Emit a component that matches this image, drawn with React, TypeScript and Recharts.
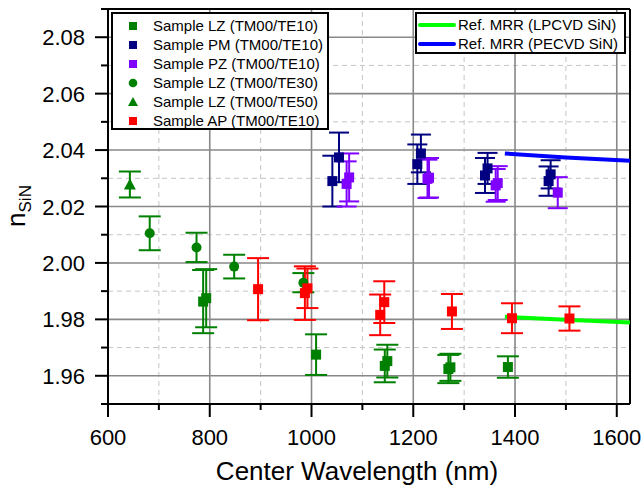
import React from "react";
import {
  ScatterChart,
  Scatter,
  XAxis,
  YAxis,
  ErrorBar,
  ReferenceLine,
} from "recharts";

const FONT = "'Liberation Sans', Arial, sans-serif";

// axis ticks (every tick drawn, labels only on the major ones)
const xTicks = [600, 700, 800, 900, 1000, 1100, 1200, 1300, 1400, 1500, 1600];
const yTicks = [1.95, 1.96, 1.97, 1.98, 1.99, 2.0, 2.01, 2.02, 2.03, 2.04, 2.05, 2.06, 2.07, 2.08, 2.09];
const xMajorGrid = [800, 1000, 1200, 1400, 1600];
const xMinorGrid = [700, 900, 1100, 1300, 1500];
const yMajorGrid = [1.96, 1.98, 2.0, 2.02, 2.04, 2.06, 2.08];
const yMinorGrid = [1.97, 1.99, 2.01, 2.03, 2.05, 2.07];

// measured points: x = center wavelength (nm), y = n_SiN, e = error
const lzTe10 = [
  { x: 787, y: 1.9863, e: 0.0112 },
  { x: 793, y: 1.9875, e: 0.0103 },
  { x: 1009, y: 1.9675, e: 0.0072 },
  { x: 1144, y: 1.9635, e: 0.0058 },
  { x: 1149, y: 1.9652, e: 0.0058 },
  { x: 1269, y: 1.9624, e: 0.005 },
  { x: 1273, y: 1.963, e: 0.0048 },
  { x: 1386, y: 1.9631, e: 0.0038 },
];
const pmTe10 = [
  { x: 1041, y: 2.029, e: 0.009 },
  { x: 1054, y: 2.0374, e: 0.0088 },
  { x: 1208, y: 2.035, e: 0.007 },
  { x: 1215, y: 2.0388, e: 0.0067 },
  { x: 1341, y: 2.031, e: 0.0062 },
  { x: 1346, y: 2.0335, e: 0.0055 },
  { x: 1466, y: 2.029, e: 0.0052 },
  { x: 1470, y: 2.0314, e: 0.005 },
];
const pzTe10 = [
  { x: 1069, y: 2.028, e: 0.008 },
  { x: 1074, y: 2.0303, e: 0.0085 },
  { x: 1228, y: 2.0298, e: 0.0068 },
  { x: 1231, y: 2.0302, e: 0.007 },
  { x: 1362, y: 2.0275, e: 0.0058 },
  { x: 1366, y: 2.0283, e: 0.006 },
  { x: 1484, y: 2.0249, e: 0.0055 },
];
const lzTe30 = [
  { x: 682, y: 2.0105, e: 0.006 },
  { x: 774, y: 2.0055, e: 0.0052 },
  { x: 848, y: 1.9987, e: 0.0042 },
  { x: 984, y: 1.993, e: 0.0034 },
];
const lzTe50 = [{ x: 643, y: 2.0278, e: 0.0046 }];
const apTe10 = [
  { x: 895, y: 1.9907, e: 0.011 },
  { x: 987, y: 1.9893, e: 0.0095 },
  { x: 992, y: 1.991, e: 0.007 },
  { x: 1135, y: 1.9816, e: 0.0072 },
  { x: 1143, y: 1.9861, e: 0.0074 },
  { x: 1276, y: 1.9828, e: 0.0062 },
  { x: 1394, y: 1.9804, e: 0.0053 },
  { x: 1507, y: 1.9803, e: 0.0043 },
];

// reference ring resonator curves
const lpcvdRef = [
  { x: 1380, y: 1.9809 },
  { x: 1500, y: 1.9799 },
  { x: 1626, y: 1.9789 },
];
const pecvdRef = [
  { x: 1380, y: 2.0388 },
  { x: 1500, y: 2.0374 },
  { x: 1626, y: 2.0362 },
];

const GREEN = "#008000";
const NAVY = "#000080";
const PURPLE = "#8000ff";
const RED = "#ff0000";

const squareShape = (color: string) => (p: any) => (
  <rect x={p.cx - 5} y={p.cy - 5} width={10} height={10} fill={color} />
);
const circleShape = (color: string) => (p: any) => (
  <circle cx={p.cx} cy={p.cy} r={5} fill={color} />
);
const triangleShape = (color: string) => (p: any) => (
  <polygon
    points={`${p.cx},${p.cy - 6} ${p.cx + 6},${p.cy + 5} ${p.cx - 6},${p.cy + 5}`}
    fill={color}
  />
);
const noShape = () => <g />;

function XTick({ x, y, payload }: any) {
  const v = payload.value;
  const major = v % 200 === 0;
  return (
    <g>
      <line x1={x} x2={x} y1={y} y2={y + (major ? 13 : 6)} stroke="#000" strokeWidth={2} />
      {major && (
        <text x={x} y={y + 41} textAnchor="middle" fontSize={22} fill="#000" fontFamily={FONT}>
          {v}
        </text>
      )}
    </g>
  );
}

function YTick({ x, y, payload }: any) {
  const v = payload.value;
  const major = Math.round(v * 100) % 2 === 0;
  return (
    <g>
      <line x1={x - (major ? 13 : 7)} x2={x} y1={y} y2={y} stroke="#000" strokeWidth={2} />
      {major && (
        <text x={x - 23} y={y + 8} textAnchor="end" fontSize={22} fill="#000" fontFamily={FONT}>
          {v.toFixed(2)}
        </text>
      )}
    </g>
  );
}

const markerLegend = [
  { label: "Sample LZ (TM00/TE10)", color: GREEN, kind: "square" },
  { label: "Sample PM (TM00/TE10)", color: NAVY, kind: "square" },
  { label: "Sample PZ (TM00/TE10)", color: PURPLE, kind: "square" },
  { label: "Sample LZ (TM00/TE30)", color: GREEN, kind: "circle" },
  { label: "Sample LZ (TM00/TE50)", color: GREEN, kind: "triangle" },
  { label: "Sample AP (TM00/TE10)", color: RED, kind: "square" },
];
const lineLegend = [
  { label: "Ref. MRR (LPCVD SiN)", color: "#00ff00" },
  { label: "Ref. MRR (PECVD SiN)", color: "#0000ff" },
];

function LegendMarker({ kind, color }: { kind: string; color: string }) {
  return (
    <svg width={12} height={12} style={{ display: "block" }}>
      {kind === "square" && <rect x={2} y={2} width={8} height={8} fill={color} />}
      {kind === "circle" && <circle cx={6} cy={6} r={4.3} fill={color} />}
      {kind === "triangle" && <polygon points="6,1 11,10 1,10" fill={color} />}
    </svg>
  );
}

export default function App() {
  const gridMajor = { stroke: "#888", strokeWidth: 1.6 };
  const gridMinor = { stroke: "#c4c4c4", strokeWidth: 1, strokeDasharray: "5 4" };

  return (
    <div
      style={{
        position: "absolute",
        left: 0,
        top: 0,
        width: 644,
        height: 487,
        background: "#fff",
        fontFamily: FONT,
      }}
    >
      <ScatterChart width={644} height={487} margin={{ top: 9, right: 14, left: 0, bottom: 0 }}>
        <XAxis
          type="number"
          dataKey="x"
          domain={[600, 1626]}
          ticks={xTicks}
          interval={0}
          tick={<XTick />}
          tickLine={false}
          tickSize={0}
          tickMargin={0}
          height={83}
          axisLine={{ stroke: "#000", strokeWidth: 2 }}
        />
        <YAxis
          type="number"
          dataKey="y"
          domain={[1.95, 2.09]}
          ticks={yTicks}
          interval={0}
          tick={<YTick />}
          tickLine={false}
          tickSize={0}
          tickMargin={0}
          width={108}
          axisLine={{ stroke: "#000", strokeWidth: 2 }}
        />
        {xMinorGrid.map((v) => (
          <ReferenceLine key={`xm${v}`} x={v} {...gridMinor} />
        ))}
        {yMinorGrid.map((v) => (
          <ReferenceLine key={`ym${v}`} y={v} {...gridMinor} />
        ))}
        {xMajorGrid.map((v) => (
          <ReferenceLine key={`xM${v}`} x={v} {...gridMajor} />
        ))}
        {yMajorGrid.map((v) => (
          <ReferenceLine key={`yM${v}`} y={v} {...gridMajor} />
        ))}
        <ReferenceLine y={2.09} stroke="#000" strokeWidth={2} />
        <ReferenceLine x={1626} stroke="#000" strokeWidth={2} />

        <Scatter
          data={lpcvdRef}
          line={{ stroke: "#00ff00", strokeWidth: 4 }}
          shape={noShape}
          isAnimationActive={false}
        />
        <Scatter
          data={pecvdRef}
          line={{ stroke: "#0000ff", strokeWidth: 4 }}
          shape={noShape}
          isAnimationActive={false}
        />

        <Scatter data={lzTe50} shape={triangleShape(GREEN)} isAnimationActive={false}>
          <ErrorBar dataKey="e" direction="y" width={11} stroke={GREEN} strokeWidth={2} />
        </Scatter>
        <Scatter data={lzTe30} shape={circleShape(GREEN)} isAnimationActive={false}>
          <ErrorBar dataKey="e" direction="y" width={11} stroke={GREEN} strokeWidth={2} />
        </Scatter>
        <Scatter data={lzTe10} shape={squareShape(GREEN)} isAnimationActive={false}>
          <ErrorBar dataKey="e" direction="y" width={11} stroke={GREEN} strokeWidth={2} />
        </Scatter>
        <Scatter data={apTe10} shape={squareShape(RED)} isAnimationActive={false}>
          <ErrorBar dataKey="e" direction="y" width={11} stroke={RED} strokeWidth={2} />
        </Scatter>
        <Scatter data={pmTe10} shape={squareShape(NAVY)} isAnimationActive={false}>
          <ErrorBar dataKey="e" direction="y" width={10} stroke={NAVY} strokeWidth={2} />
        </Scatter>
        <Scatter data={pzTe10} shape={squareShape(PURPLE)} isAnimationActive={false}>
          <ErrorBar dataKey="e" direction="y" width={10} stroke={PURPLE} strokeWidth={2} />
        </Scatter>
      </ScatterChart>

      {/* axis titles */}
      <svg
        width={644}
        height={487}
        style={{ position: "absolute", left: 0, top: 0, pointerEvents: "none" }}
      >
        <text x={357} y={480} textAnchor="middle" fontSize={26} fill="#000" fontFamily={FONT}>
          Center Wavelength (nm)
        </text>
        <text
          x={25}
          y={206}
          transform="rotate(-90 25 206)"
          textAnchor="middle"
          fontSize={26}
          fill="#000"
          fontFamily={FONT}
        >
          <tspan>n</tspan>
          <tspan fontSize={17} dy={6}>
            SiN
          </tspan>
        </text>
      </svg>

      {/* sample legend */}
      <div
        style={{
          position: "absolute",
          left: 111,
          top: 12,
          width: 218,
          height: 118,
          boxSizing: "border-box",
          border: "2px solid #000",
          background: "#fff",
          paddingTop: 2,
        }}
      >
        {markerLegend.map((item) => (
          <div
            key={item.label}
            style={{ display: "flex", alignItems: "center", height: 19, fontSize: 15, color: "#000" }}
          >
            <div style={{ width: 14, marginLeft: 14 }}>
              <LegendMarker kind={item.kind} color={item.color} />
            </div>
            <span style={{ marginLeft: 12, whiteSpace: "nowrap" }}>{item.label}</span>
          </div>
        ))}
      </div>

      {/* reference legend */}
      <div
        style={{
          position: "absolute",
          left: 415,
          top: 12,
          width: 211,
          height: 42,
          boxSizing: "border-box",
          border: "2px solid #000",
          background: "#fff",
          paddingTop: 1,
        }}
      >
        {lineLegend.map((item) => (
          <div
            key={item.label}
            style={{ display: "flex", alignItems: "center", height: 19, fontSize: 15, color: "#000" }}
          >
            <div style={{ width: 38, height: 4, marginLeft: 1, background: item.color, borderRadius: 2 }} />
            <span style={{ marginLeft: 2, whiteSpace: "nowrap" }}>{item.label}</span>
          </div>
        ))}
      </div>
    </div>
  );
}
